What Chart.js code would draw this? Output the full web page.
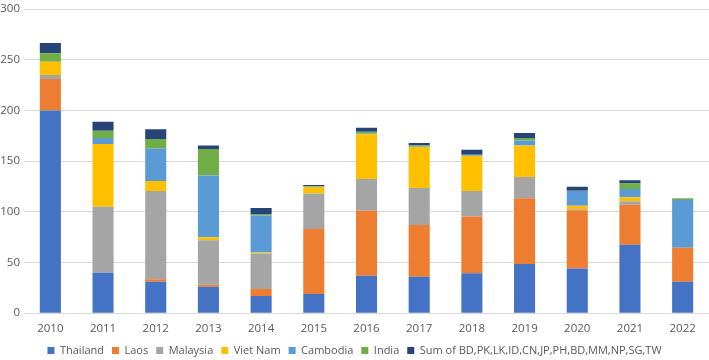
<!DOCTYPE html>
<html>
<head>
<meta charset="utf-8">
<script src="https://cdn.jsdelivr.net/npm/chart.js@4"></script>
<style>
  html, body { margin: 0; padding: 0; background: #fff; }
  #wrap { width: 709px; height: 360px; }
</style>
</head>
<body>
<div id="wrap"><canvas id="chart"></canvas></div>
<script>
// данные
const years = ['2010', '2011', '2012', '2013', '2014', '2015', '2016', '2017', '2018', '2019', '2020', '2021', '2022'];
const thailand = [200, 40, 31, 26, 17, 19, 37, 36, 39.5, 48.5, 44, 67.5, 31];
const laos     = [31, 0, 2.5, 2, 7, 64, 64, 51, 56, 65, 57.5, 39.5, 33.5];
const malaysia = [4, 65, 87, 44, 35, 35, 31.5, 36.5, 25, 21, 1, 3.5, 0];
const vietNam  = [13, 62, 10, 3, 1, 6.5, 44, 40.5, 34.5, 31, 3.5, 4, 0];
const cambodia = [0, 6, 32, 61, 36.5, 0.5, 0.5, 0.5, 0.7, 5, 14.5, 8, 47.3];
const india    = [8.5, 7, 9.5, 26, 1.3, 0.5, 2, 1, 0.7, 2.3, 0.3, 5.6, 1.3];
const others   = [10, 9, 9.5, 3.5, 6, 1, 4, 2.5, 5, 5, 4, 3, 0.3];
const yTicks = [0, 50, 100, 150, 200, 250, 300];

const series = [
    { label: 'Thailand', data: thailand, color: '#4472C4' },
    { label: 'Laos', data: laos, color: '#ED7D31' },
    { label: 'Malaysia', data: malaysia, color: '#A5A5A5' },
    { label: 'Viet Nam', data: vietNam, color: '#FFC000' },
    { label: 'Cambodia', data: cambodia, color: '#5B9BD5' },
    { label: 'India', data: india, color: '#70AD47' },
    { label: 'Sum of BD,PK,LK,ID,CN,JP,PH,BD,MM,NP,SG,TW', data: others, color: '#264478' },
];

const fontFamily = '"Open Sans", sans-serif';

new Chart(document.getElementById('chart'), {
    type: 'bar',
    data: {
        labels: years,
        datasets: series.map(s => ({
            label: s.label,
            data: s.data,
            backgroundColor: s.color,
            borderWidth: 0,
            barPercentage: 0.4,
            categoryPercentage: 1,
        })),
    },
    options: {
        responsive: true,
        maintainAspectRatio: false,
        animation: false,
        layout: { padding: { top: 0, right: 0, left: 0, bottom: -6 } },
        plugins: {
            legend: {
                position: 'bottom',
                labels: {
                    boxWidth: 7,
                    boxHeight: 7,
                    padding: 8,
                    color: '#595959',
                    font: { family: fontFamily, size: 11 },
                },
            },
            tooltip: { enabled: false },
        },
        scales: {
            x: {
                stacked: true,
                afterFit: axis => { axis.height -= 8; }, // легенда ближе к подписям
                grid: { display: false, drawTicks: false },
                border: { color: '#D9D9D9' },
                ticks: {
                    color: '#595959',
                    padding: 9,
                    font: { family: fontFamily, size: 11.5 },
                },
            },
            y: {
                stacked: true,
                min: 0,
                max: 300,
                afterBuildTicks: axis => { axis.ticks = yTicks.map(v => ({ value: v })); },
                afterFit: axis => { axis.width = 24; },
                grid: { color: '#D9D9D9', drawTicks: false },
                border: { display: false },
                ticks: {
                    color: '#595959',
                    padding: 4,
                    font: { family: fontFamily, size: 11.5, lineHeight: 0.9 },
                },
            },
        },
    },
});
</script>
</body>
</html>
